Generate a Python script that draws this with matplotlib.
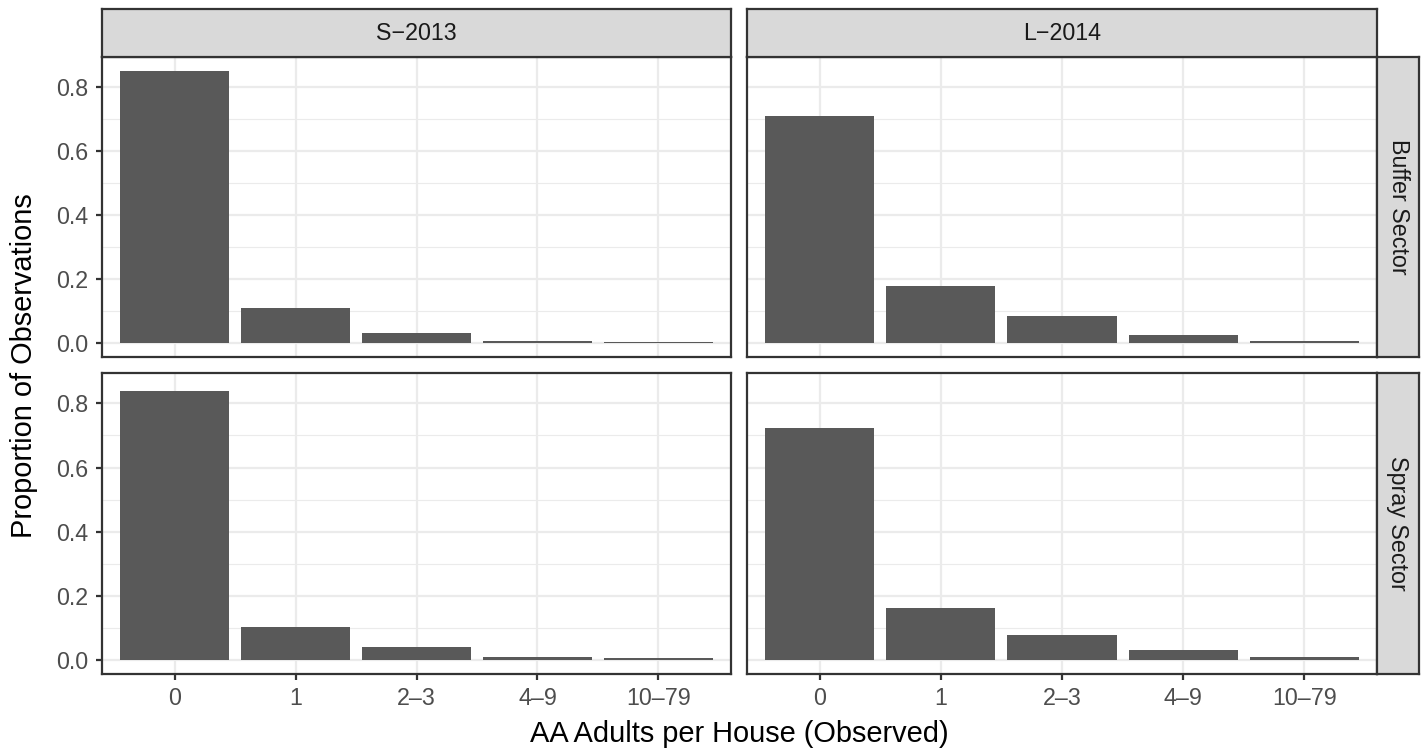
import matplotlib
matplotlib.use("Agg")
import matplotlib.pyplot as plt

plt.rcParams['font.family'] = ['Liberation Sans', 'DejaVu Sans']

categories = ["0", "1", "2\u20133", "4\u20139", "10\u201379"]
columns = ["S\u22122013", "L\u22122014"]
rows = ["Buffer Sector", "Spray Sector"]

buffer_s2013 = [0.852, 0.111, 0.031, 0.006, 0.003]
buffer_l2014 = [0.709, 0.179, 0.087, 0.025, 0.006]
spray_s2013 = [0.840, 0.104, 0.043, 0.009, 0.006]
spray_l2014 = [0.722, 0.162, 0.080, 0.031, 0.009]

values = {
    ("Buffer Sector", "S\u22122013"): buffer_s2013,
    ("Buffer Sector", "L\u22122014"): buffer_l2014,
    ("Spray Sector", "S\u22122013"): spray_s2013,
    ("Spray Sector", "L\u22122014"): spray_l2014,
}

yticks = [0.0, 0.2, 0.4, 0.6, 0.8]
yminor = [0.1, 0.3, 0.5, 0.7]

W, H = 1421, 751
fig = plt.figure(figsize=(W / 100, H / 100), dpi=100)

S = 1.5      # line scale
T = 1.9      # text scale
grey20 = "#333333"
grey30 = "#4D4D4D"
grey92 = "#EBEBEB"
grey85 = "#D9D9D9"
bar_col = "#595959"
border_lw = 1.07 * S

def px_rect(x0, y0, x1, y1):
    return [x0 / W, 1 - y1 / H, (x1 - x0) / W, (y1 - y0) / H]

col_x = [(102, 731), (747, 1377)]
row_y = [(57, 357), (373, 674)]

ymax_all = max(max(v) for v in values.values())
ylo, yhi = -0.05 * ymax_all, ymax_all * 1.05

for ri, r in enumerate(rows):
    for ci, c in enumerate(columns):
        x0, x1 = col_x[ci]
        y0, y1 = row_y[ri]
        ax = fig.add_axes(px_rect(x0, y0, x1, y1))
        xs = list(range(len(categories)))
        ax.bar(xs, values[(r, c)], width=0.9, color=bar_col, zorder=3)
        ax.set_xlim(-0.6, len(categories) - 0.4)
        ax.set_ylim(ylo, yhi)
        ax.set_yticks(yticks)
        ax.set_yticks(yminor, minor=True)
        ax.set_xticks(xs)
        ax.grid(True, which="major", color=grey92, lw=1.07 * S, zorder=0)
        ax.grid(True, which="minor", axis="y", color=grey92, lw=0.53 * S, zorder=0)
        ax.set_axisbelow(True)
        for sp in ax.spines.values():
            sp.set_color(grey20)
            sp.set_linewidth(border_lw)
            sp.set_zorder(5)
        ax.tick_params(which="major", length=2.75 * S, width=1.07 * S, color=grey20,
                       labelsize=8.8 * T, labelcolor=grey30)
        ax.tick_params(axis="y", which="major", pad=5.5)
        ax.tick_params(axis="x", which="major", pad=5.0)
        ax.tick_params(which="minor", length=0)
        if ci == 0:
            ax.set_yticklabels([f"{t:.1f}" for t in yticks])
        else:
            ax.tick_params(axis="y", which="major", length=0, labelleft=False)
        if ri == len(rows) - 1:
            ax.set_xticklabels(categories)
        else:
            ax.tick_params(axis="x", which="major", length=0, labelbottom=False)

# column strips
for ci, c in enumerate(columns):
    x0, x1 = col_x[ci]
    sax = fig.add_axes(px_rect(x0, 9, x1, 57))
    sax.set_xticks([]); sax.set_yticks([])
    sax.set_facecolor(grey85)
    for sp in sax.spines.values():
        sp.set_color(grey20); sp.set_linewidth(border_lw)
    sax.text(0.5, 0.5, c, ha="center", va="center", fontsize=8.8 * T,
             color="#1A1A1A", transform=sax.transAxes)

# row strips
for ri, r in enumerate(rows):
    y0, y1 = row_y[ri]
    sax = fig.add_axes(px_rect(1377, y0, 1419, y1))
    sax.set_xticks([]); sax.set_yticks([])
    sax.set_facecolor(grey85)
    for sp in sax.spines.values():
        sp.set_color(grey20); sp.set_linewidth(border_lw)
    sax.text(0.5, 0.5, r, ha="center", va="center", fontsize=8.8 * T,
             color="#1A1A1A", rotation=-90, transform=sax.transAxes)

fig.text((102 + 1377) / 2 / W, 1 - 734 / H, "AA Adults per House (Observed)",
         ha="center", va="center", fontsize=11 * T, color="black")
fig.text(24 / W, 1 - (57 + 674) / 2 / H, "Proportion of Observations",
         ha="center", va="center", rotation=90, fontsize=11 * T, color="black")

fig.savefig("out.png", dpi=100, facecolor="white")
